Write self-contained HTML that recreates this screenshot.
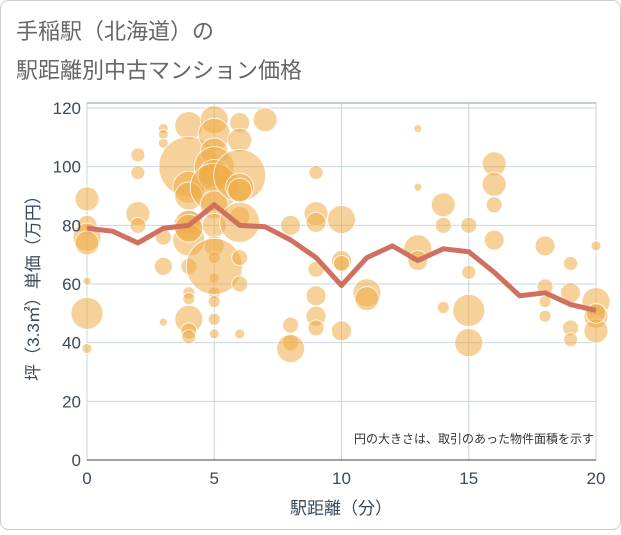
<!DOCTYPE html>
<html><head><meta charset="utf-8"><style>
body{margin:0;background:#fff;}
#wrap{position:relative;width:621px;height:530px;}
svg text{font-family:"Liberation Sans","Noto Sans CJK JP",sans-serif;}
</style></head><body>
<div id="wrap">
<svg id="chart" width="621" height="530" xmlns="http://www.w3.org/2000/svg">
<rect x="0.5" y="0.5" width="620" height="529" rx="8" fill="#fff" stroke="#ccc"/>
<text x="16" y="39" font-size="22" fill="#666">手稲駅（北海道）の</text>
<text x="16" y="78" font-size="22" fill="#666">駅距離別中古マンション価格</text>
<g id="grid"></g><g id="bubbles"></g><g id="line"></g><g id="axes"></g>
<text x="594" y="443" font-size="12" fill="#333" text-anchor="end">円の大きさは、取引のあった物件面積を示す</text>
<text x="341" y="514" font-size="17" fill="#3a4a5a" text-anchor="middle">駅距離（分）</text>
<text transform="translate(39,284) rotate(-90)" font-size="17" fill="#3a4a5a" text-anchor="middle">坪（3.3㎡）単価（万円）</text>
</svg></div>
<script>
const xTicks=[0,5,10,15,20];
const yTicks=[0,20,40,60,80,100,120];
const lineX=[0,1,2,3,4,5,6,7,8,9,10,11,12,13,14,15,16,17,18,19,20];
const lineY=[79,78,74,79,80,87,80,79.5,75,69,59.5,69,73,68,72,71,64,56,57,53,51];
const bubX=[0,0,0,0,0,0,0,2,2,2,2,3,3,3,3,3,3,4,4,4,4,4,4,4,4,4,4,4,4,4,4,5,5,5,5,5,5,5,5,5,5,5,5,5,5,5,5,6,6,6,6,6,6,6,6,6,6,7,8,8,8,8,9,9,9,9,9,9,9,10,10,10,10,11,11,13,13,13,13,14,14,14,15,15,15,15,16,16,16,16,18,18,18,18,19,19,19,19,20,20,20,20,20];
const bubY=[89,80,76,74,61,50,38,104,98,84,80,113,111,108,76,66,47,114,100,93,90,81,80,75,66,57,55,48,44,42,79,116,111,105,100,97,93,87,80,73,69,62,57,54,48,66,43,115,109,97,93,92,83,69,60,43,81,116,80,46,40,38,98,84,81,65,56,49,45,82,68,67,44,57,55,113,93,72,68,87,80,52,80,64,51,40,101,94,87,75,73,59,54,49,67,57,45,41,73,54,49,44,50];
const bubS=[12,10,14,12,4,16,5,7,7,12,8,5,5,5,8,9,4,14,30,16,14,12,15,16,8,6,6,14,8,7,14,14,16,14,20,16,24,14,12,10,6,5,6,6,6,28,5,10,12,26,14,12,10,8,8,5,20,12,10,8,8,14,7,12,10,8,10,10,8,14,10,8,10,14,12,4,4,14,10,12,8,6,8,7,16,14,12,12,8,10,10,8,6,6,7,10,8,7,5,14,12,12,10];
const L=87,R=596,T=108,B=460;
const xs=v=>L+(R-L)*v/20, ys=v=>B-(B-T)*v/120;
const NS="http://www.w3.org/2000/svg";
function mk(t,a,p){const e=document.createElementNS(NS,t);for(const k in a)e.setAttribute(k,a[k]);p.appendChild(e);return e;}
const grid=document.getElementById('grid'),axes=document.getElementById('axes');
mk('rect',{x:L,y:T-5,width:R-L,height:B-T+5,fill:'none',stroke:'#8a9aaa'},grid);
yTicks.forEach(v=>{const l=mk('line',{x1:L,x2:R,y1:ys(v),y2:ys(v),stroke:'#c8d4e0'},grid);


const t=mk('text',{x:L-6,y:ys(v)+6,'font-size':17,fill:'#3a4a5a','text-anchor':'end'},axes);t.textContent=v;

});
xTicks.forEach(v=>{const l=mk('line',{y1:T-5,y2:B,x1:xs(v),x2:xs(v),stroke:'#c8d4e0'},grid);


const t=mk('text',{x:xs(v),y:B+24,'font-size':17,fill:'#3a4a5a','text-anchor':'middle'},axes);t.textContent=v;

});
mk('line',{x1:L,x2:R,y1:B,y2:B,stroke:'#444'},axes);
const bg=document.getElementById('bubbles');
bubX.forEach((x,i)=>{const c=mk('circle',{cx:xs(x),cy:ys(bubY[i]),r:bubS[i],fill:'rgba(238,172,70,0.55)',stroke:'rgba(255,255,255,0.8)','stroke-width':1},bg);

});
const pts=lineX.map((x,i)=>xs(x)+','+ys(lineY[i])).join(' ');
const pl=mk('polyline',{points:pts,fill:'none',stroke:'#d07060',"stroke-width":5,"stroke-linejoin":"round"},document.getElementById('line'));


</script></body></html>
